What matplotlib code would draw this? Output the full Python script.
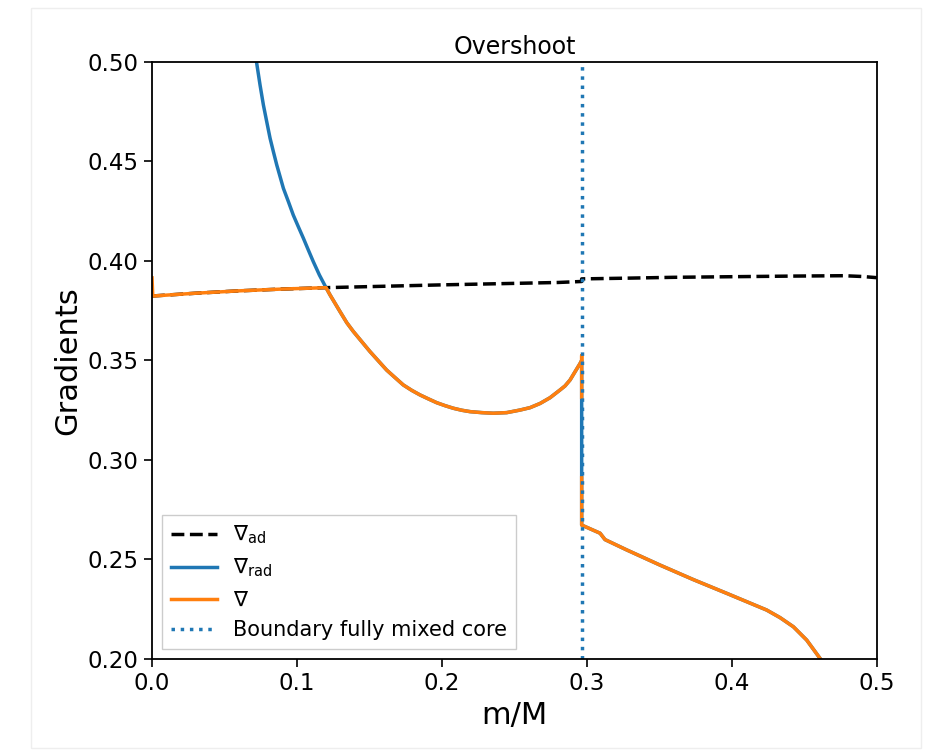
import matplotlib
matplotlib.use('Agg')
import matplotlib.pyplot as plt
import numpy as np

# adiabatic gradient
x_ad = [0.0, 0.03, 0.06, 0.09, 0.12, 0.16, 0.20, 0.24, 0.28, 0.2963, 0.2963, 0.33, 0.36, 0.40, 0.44, 0.477, 0.49, 0.5]
y_ad = [0.3824, 0.3838, 0.3850, 0.3859, 0.3866, 0.3873, 0.3880, 0.3886, 0.3892, 0.3897, 0.3910, 0.3914, 0.3918, 0.3921, 0.3924, 0.3926, 0.3922, 0.3916]

# radiative branch shared by nabla_rad and nabla (inside the convective-free zone)
x_bowl = [0.1200, 0.1228, 0.1297, 0.1343, 0.1388, 0.1446, 0.1503, 0.1561, 0.1618, 0.1676, 0.1733, 0.1791, 0.1848,
          0.1906, 0.1963, 0.2021, 0.2078, 0.2136, 0.2193, 0.2274, 0.2354, 0.2446, 0.2538, 0.2607, 0.2676, 0.2745,
          0.2814, 0.2848, 0.2883, 0.2917, 0.2952, 0.2963]
y_bowl = [0.3866, 0.3829, 0.3745, 0.3690, 0.3646, 0.3595, 0.3545, 0.3498, 0.3452, 0.3414, 0.3377, 0.3350, 0.3327,
          0.3307, 0.3288, 0.3273, 0.3260, 0.3250, 0.3243, 0.3238, 0.3235, 0.3238, 0.3251, 0.3263, 0.3284, 0.3313,
          0.3352, 0.3372, 0.3402, 0.3443, 0.3485, 0.3500]

x_env = [0.2963, 0.309, 0.3124, 0.3274, 0.3503, 0.3733, 0.3963, 0.4101, 0.4239, 0.4331, 0.4423, 0.4515, 0.4607, 0.47]
y_env = [0.2673, 0.2632, 0.2600, 0.2548, 0.2472, 0.2399, 0.2330, 0.2288, 0.2246, 0.2208, 0.2162, 0.2095, 0.2003, 0.19]

x_top = [0.0676, 0.0722, 0.0745, 0.0768, 0.0791, 0.0814, 0.0837, 0.0860, 0.0883, 0.0906, 0.0940, 0.0974, 0.1009,
         0.1044, 0.1078, 0.1112, 0.1154]
y_top = [0.5200, 0.4993, 0.4884, 0.4784, 0.4700, 0.4617, 0.4549, 0.4483, 0.4424, 0.4365, 0.4299, 0.4231, 0.4172,
         0.4114, 0.4055, 0.3997, 0.3930]

x_rad = x_top + x_bowl + x_env
y_rad = y_top + y_bowl + y_env

# actual gradient
x_conv = [0.0, 0.0005, 0.03, 0.06, 0.09]
y_conv = [0.3915, 0.3824, 0.3838, 0.3850, 0.3859]
x_jump = [0.2963, 0.2963, np.nan, 0.2963]
y_jump = [0.3525, 0.3315, np.nan, 0.2910]
x_nab = x_conv + x_bowl + x_jump + x_env
y_nab = y_conv + y_bowl + y_jump + y_env

m_core = 0.2963

fig = plt.figure(figsize=(9.35, 7.54), dpi=100)
fig.patches.append(plt.Rectangle((0.033, 0.008), 0.952, 0.982, transform=fig.transFigure,
                                 fill=False, edgecolor='#eeeeee', lw=1.0))
ax = fig.add_axes([0.1626, 0.126, 0.7754, 0.7918])

ax.plot(x_ad, y_ad, 'k--', lw=2.5, label=r'$\nabla_{\rm ad}$')
ax.plot(x_rad, y_rad, color='tab:blue', lw=2.5, label=r'$\nabla_{\rm rad}$')
ax.plot(x_nab, y_nab, color='tab:orange', lw=2.5, label=r'$\nabla$')
ax.axvline(m_core, color='tab:blue', ls=':', lw=2.5, label='Boundary fully mixed core')

ax.set_xlim(0, 0.5)
ax.set_ylim(0.2, 0.5)
ax.set_xticks([0.0, 0.1, 0.2, 0.3, 0.4, 0.5])
ax.set_yticks([0.20, 0.25, 0.30, 0.35, 0.40, 0.45, 0.50])
ax.tick_params(labelsize=16.5, width=1.2, length=6)
for s in ax.spines.values():
    s.set_linewidth(1.3)
ax.set_xlabel('m/M', fontsize=22)
ax.set_ylabel('Gradients', fontsize=22)
ax.set_title('Overshoot', fontsize=17)
ax.legend(loc='lower left', fontsize=15, handlelength=2.2, fancybox=False, framealpha=1, edgecolor='#cccccc')

fig.savefig('out.png', dpi=100)
